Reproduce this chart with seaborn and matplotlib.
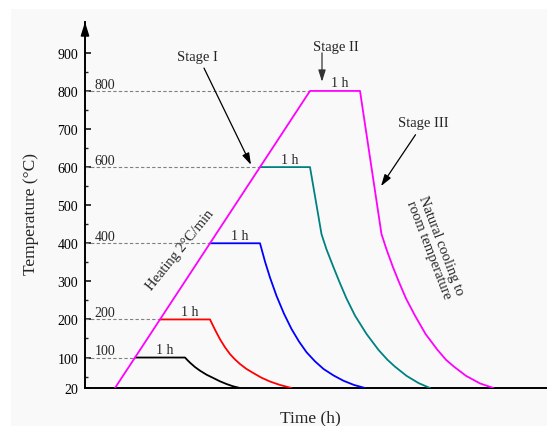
import numpy as np
import pandas as pd
import matplotlib
matplotlib.use("Agg")
import matplotlib.pyplot as plt
from matplotlib.patches import Rectangle
import seaborn as sns

# ---------------- data ----------------
# time in schematic units (1 unit = 1 h holding), temperature in degC
black_t = [1.0, 2.0, 2.05, 2.1, 2.2, 2.3, 2.43, 2.57, 2.7, 2.83, 2.96, 3.1]
black_T = [100, 100, 93, 86.5, 75, 65.5, 55, 46, 37.5, 30.5, 24.5, 20]

red_t = [1.5, 2.5, 2.6, 2.7, 2.8, 2.9, 3.0, 3.1, 3.23, 3.37, 3.53, 3.7, 3.9, 4.13]
red_T = [200, 200, 173, 148, 127, 109, 95, 83, 70, 59, 47, 37, 28, 20]

blue_t = [2.5, 3.5, 3.6, 3.7, 3.83, 3.98, 4.13, 4.28, 4.43, 4.6, 4.77, 4.97, 5.17, 5.38, 5.6]
blue_T = [400, 400, 352, 310, 262, 215, 175, 142, 114, 90, 70, 53, 39, 28, 20]

teal_t = [3.5, 4.5, 4.73, 4.83, 4.97, 5.09, 5.23, 5.4, 5.63, 5.87, 6.05, 6.2, 6.43, 6.67, 6.9]
teal_T = [600, 600, 424, 384, 337, 298, 255, 210, 162, 120, 94, 76, 52, 33, 20]

magenta_t = [0.6, 4.5, 5.5, 5.93, 6.03, 6.16, 6.28, 6.42, 6.6, 6.81, 7.05, 7.22, 7.38,
             7.62, 7.9, 8.17]
magenta_T = [20, 800, 800, 424, 384, 337, 298, 255, 210, 162, 120, 94, 76, 52, 32, 20]

levels = [100, 200, 400, 600, 800]
hold_start = [1.0, 1.5, 2.5, 3.5, 4.5]
level_labels = ["100", "200", "400", "600", "800"]
hold_label = "1 h"

ytick_values = [20, 100, 200, 300, 400, 500, 600, 700, 800, 900]
yminor_values = [50, 150, 250, 350, 450, 550, 650, 750, 850]

series_names = ["100", "200", "400", "600", "800"]
series_colors = ["#000000", "#ff0000", "#0000ff", "#008080", "#ff00ff"]

frames = []
for name, t, T in zip(series_names,
                      [black_t, red_t, blue_t, teal_t, magenta_t],
                      [black_T, red_T, blue_T, teal_T, magenta_T]):
    frames.append(pd.DataFrame({"time": t, "temp": T, "series": name}))
df = pd.concat(frames, ignore_index=True)

# ---------------- style ----------------
sns.set_style("ticks")
plt.rcParams["font.family"] = ["Liberation Serif", "DejaVu Serif"]

fig = plt.figure(figsize=(5.47, 4.27), dpi=100, facecolor="white")
fig.patches.append(Rectangle((11 / 547, 0), 1, 417 / 427, transform=fig.transFigure,
                             facecolor="#f9f9f9", edgecolor="none", zorder=-10))
ax = fig.add_axes([85 / 547, 38 / 427, 462 / 547, 366 / 427])
ax.set_facecolor("none")

# dashed guide lines
for lv, hs in zip(levels, hold_start):
    ax.plot([0, hs], [lv, lv], color="#808080", lw=0.8, ls=(0, (3, 2)), zorder=1)

sns.lineplot(data=df, x="time", y="temp", hue="series", units="series",
             estimator=None, sort=False, palette=dict(zip(series_names, series_colors)),
             hue_order=series_names, lw=1.3, legend=False, ax=ax, zorder=3)

# level labels and hold labels
for lv, hs, lab in zip(levels, hold_start, level_labels):
    ax.text(0.19, lv + 9, lab, ha="left", va="baseline", fontsize=10)
    ax.text(hs + 0.6, lv + 12, hold_label, ha="center", va="baseline", fontsize=10)

# stage annotations
arrow = dict(arrowstyle="-|>,head_length=0.7,head_width=0.22", color="black",
             lw=0.9, shrinkA=0, shrinkB=0, mutation_scale=10)
ax.text(2.25, 890, "Stage I", ha="center", va="center", fontsize=10.5)
ax.annotate("", xy=(3.32, 606), xytext=(2.38, 860), arrowprops=arrow)
ax.text(5.02, 917, "Stage II", ha="center", va="center", fontsize=10.5)
ax.annotate("", xy=(4.74, 824), xytext=(4.74, 900),
            arrowprops=dict(arrow, color="#333333"))
ax.text(6.76, 716, "Stage III", ha="center", va="center", fontsize=10.5)
ax.annotate("", xy=(5.92, 550), xytext=(6.61, 685), arrowprops=arrow)

ax.text(1.91, 385, "Heating 2°C/min", rotation=51, rotation_mode="anchor",
        ha="center", va="center", fontsize=10.5)
ax.text(6.99, 390, "Natural cooling to\nroom temperature", rotation=-69,
        rotation_mode="anchor", ha="center", va="center", fontsize=10.5,
        linespacing=1.0)

# axes
ax.set_xlim(0, 9.24)
ax.set_ylim(20, 981)
ax.set_yticks(ytick_values)
ax.set_yticks(yminor_values, minor=True)
ax.set_xticks([])
ax.tick_params(axis="y", which="major", direction="in", length=4.5, width=1.1,
               labelsize=10, pad=5, colors="black")
ax.tick_params(axis="y", which="minor", direction="in", length=2.5, width=1.0)
for s in ["top", "right"]:
    ax.spines[s].set_visible(False)
for s in ["left", "bottom"]:
    ax.spines[s].set_linewidth(1.4)
    ax.spines[s].set_color("black")

ax.annotate("", xy=(0, 1.0), xycoords="axes fraction", xytext=(0, 0.96),
            textcoords="axes fraction",
            arrowprops=dict(arrowstyle="-|>,head_length=0.8,head_width=0.25",
                            color="black", lw=1.2, shrinkA=0, shrinkB=0,
                            mutation_scale=10), annotation_clip=False)

ax.set_xlabel("Time (h)", fontsize=12.5, va="center")
ax.xaxis.set_label_coords(0.487, -0.079)
ax.set_ylabel("Temperature (°C)", fontsize=12.5, va="center")
ax.yaxis.set_label_coords(-0.116, 0.478)

fig.savefig("out.png", dpi=100, facecolor=fig.get_facecolor())
